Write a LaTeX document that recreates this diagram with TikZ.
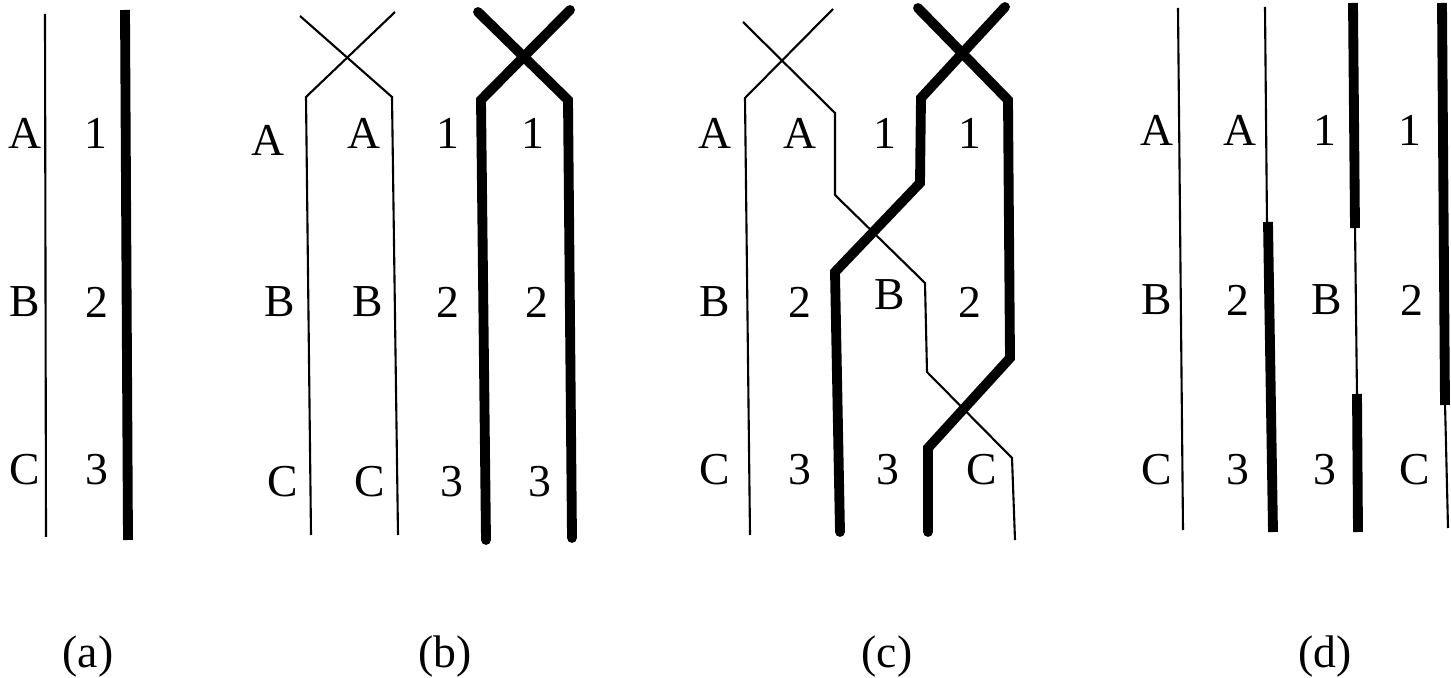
\documentclass[tikz,border=0pt]{standalone}
\usepackage{fontspec}
\setmainfont{Liberation Serif}
\begin{document}
\begin{tikzpicture}[x=0.02cm,y=-0.02cm,
  thinline/.style={line width=1.2pt},
  thickline/.style={line width=5.6pt, line cap=round},
  flatthick/.style={line width=5.6pt},
  lab/.style={font=\fontsize{26}{30}\selectfont, inner sep=0pt},
  capt/.style={font=\fontsize{26}{30}\selectfont, inner sep=0pt}]
\useasboundingbox (0,0) rectangle (1451,678);

% ---------- (a) ----------
\draw[thinline] (45,14) -- (46,537);
\draw[flatthick] (125,10) -- (128,540);
\node[lab] (aA) at (25,133) {A};
\node[lab] (aB) at (25,302) {B};
\node[lab] (aC) at (25,470) {C};
\node[lab] (a1) at (96,133) {1};
\node[lab] (a2) at (97,302) {2};
\node[lab] (a3) at (97,470) {3};
\node[capt] (capa) at (88,657) {(a)};

% ---------- (b) ----------
\draw[thinline] (300,16) -- (392,97) -- (398,535);
\draw[thinline] (395,12) -- (306,97) -- (311,535);
\draw[thickline] (478,12) -- (568,100) -- (572,538);
\draw[thickline] (570,10) -- (481,100) -- (486,540);
\node[lab] (bA1) at (268,140) {A};
\node[lab] (bA2) at (364,133) {A};
\node[lab] (b11) at (448,133) {1};
\node[lab] (b12) at (533,133) {1};
\node[lab] (bB1) at (280,302) {B};
\node[lab] (bB2) at (368,302) {B};
\node[lab] (b21) at (448,302) {2};
\node[lab] (b22) at (537,302) {2};
\node[lab] (bC1) at (283,482) {C};
\node[lab] (bC2) at (370,482) {C};
\node[lab] (b31) at (452,482) {3};
\node[lab] (b32) at (540,482) {3};
\node[capt] (capb) at (445,657) {(b)};

% ---------- (c) ----------
% thin strand 1
\draw[thinline] (833,9) -- (745,98) -- (750,535);
% thin strand 2
\draw[thinline] (743,22) -- (835,113) -- (835,195) -- (925,283) -- (927,372) -- (1012,458) -- (1015,540);
% thick strand 1
\draw[thickline] (918,8) -- (1008,100) -- (1010,358) -- (928,448) -- (928,532);
% thick strand 2
\draw[thickline] (1005,7) -- (921,98) -- (920,183) -- (835,272) -- (840,532);
\node[lab] (cA1) at (715,133) {A};
\node[lab] (cA2) at (800,133) {A};
\node[lab] (c11) at (885,133) {1};
\node[lab] (c12) at (970,133) {1};
\node[lab] (cB1) at (715,302) {B};
\node[lab] (c21) at (800,302) {2};
\node[lab] (cB2) at (890,295) {B};
\node[lab] (c22) at (970,302) {2};
\node[lab] (cC1) at (715,470) {C};
\node[lab] (c31) at (800,470) {3};
\node[lab] (c32) at (888,470) {3};
\node[lab] (cC2) at (982,470) {C};
\node[capt] (capc) at (887,657) {(c)};

% ---------- (d) ----------
\draw[thinline] (1178,8) -- (1183,530);
\draw[thinline] (1265,7) -- (1267,225);
\draw[flatthick] (1268,222) -- (1273,532);
\draw[flatthick] (1353,3) -- (1355,228);
\draw[thinline] (1355,226) -- (1357,396);
\draw[flatthick] (1357,394) -- (1358,532);
\draw[flatthick] (1442,3) -- (1445,405);
\draw[thinline] (1445,403) -- (1448,528);
\node[lab] (dA1) at (1157,130) {A};
\node[lab] (dA2) at (1240,130) {A};
\node[lab] (d11) at (1325,130) {1};
\node[lab] (d12) at (1410,130) {1};
\node[lab] (dB1) at (1157,300) {B};
\node[lab] (d21) at (1238,300) {2};
\node[lab] (dB2) at (1327,300) {B};
\node[lab] (d22) at (1412,300) {2};
\node[lab] (dC1) at (1157,470) {C};
\node[lab] (d31) at (1238,470) {3};
\node[lab] (d32) at (1325,470) {3};
\node[lab] (dC2) at (1415,470) {C};
\node[capt] (capd) at (1325,657) {(d)};
\end{tikzpicture}
\end{document}
